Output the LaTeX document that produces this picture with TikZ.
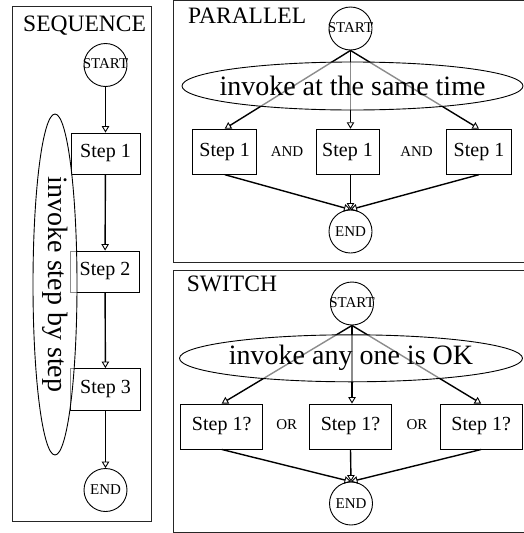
\documentclass[tikz,border=0pt]{standalone}
\usepackage{fontspec}
\setmainfont{Liberation Serif}
\usetikzlibrary{arrows.meta,shapes.geometric}

\tikzset{
  panel/.style={draw=black!85, line width=1pt},
  title/.style={anchor=base west, inner sep=0pt, font=\fontsize{23.5}{25}\selectfont},
  term/.style={draw, circle, line width=0.9pt, minimum size=43pt, inner sep=0pt,
               font=\fontsize{15}{16}\selectfont},
  stepbox/.style={draw, rectangle, line width=0.9pt, inner sep=0pt,
                  font=\fontsize{20}{22}\selectfont},
  joiner/.style={inner sep=0pt, font=\fontsize{15}{16}\selectfont},
  flow/.style={line width=1.4pt, -{Triangle[open, length=6.5pt, width=7.5pt, line width=0.9pt]}},
  note/.style={draw, ellipse, line width=0.9pt, inner sep=0pt, fill=white,
               fill opacity=0.55, text opacity=1, font=\fontsize{28}{30}\selectfont},
}

\begin{document}
\begin{tikzpicture}[x=1pt, y=-1pt]
\useasboundingbox (0,0) rectangle (524,533);

% ---------------- SEQUENCE ----------------
\draw[panel] (12,6) rectangle (151,521);
\node[title] (seqTitle) at (23,31) {SEQUENCE};
\node[term] (sStart) at (105.5,65) {\raisebox{2pt}{\makebox[0pt]{START}}};
\node[stepbox, minimum width=69pt, minimum height=41pt] (s1) at (105.5,153.5) {Step 1};
\node[stepbox, minimum width=69pt, minimum height=41pt] (s2) at (105,271.5) {Step 2};
\node[stepbox, minimum width=70pt, minimum height=42pt] (s3) at (105.5,389.5) {Step 3};
\node[term] (sEnd) at (105.5,490) {END};
\draw[flow] (sStart) -- (s1);
\draw[flow] (s1) -- (s2);
\draw[flow] (s2) -- (s3);
\draw[flow] (s3) -- (sEnd);
\node[note, rotate=-90, minimum width=341pt, minimum height=44pt] (sNote) at (55,284.5)
  {invoke step by step};

% ---------------- PARALLEL ----------------
\draw[panel] (173,0.5) rectangle (530,262);
\node[title] (parTitle) at (188,23.3) {PARALLEL};
\node[term] (pStart) at (350.5,28.5) {\raisebox{2pt}{\makebox[0pt]{START}}};
\node[stepbox, minimum width=64pt, minimum height=45pt] (pA) at (224.7,151.7) {Step 1};
\node[stepbox, minimum width=63pt, minimum height=45pt] (pB) at (347.5,151.7) {Step 1};
\node[stepbox, minimum width=65pt, minimum height=45pt] (pC) at (479,151.7) {Step 1};
\node[joiner] (and1) at (287,152) {AND};
\node[joiner] (and2) at (416.5,152) {AND};
\node[term] (pEnd) at (350.5,231.5) {END};
\draw[flow] (pStart.south) -- (pA.north);
\draw[flow] (pStart.south) -- (pStart.south |- pB.north);
\draw[flow] (pStart.south) -- (pC.north);
\draw[flow] (pA.south) -- (pEnd.north);
\draw[flow] (pStart.south |- pB.south) -- (pEnd.north);
\draw[flow] (pC.south) -- (pEnd.north);
\node[note, minimum width=341pt, minimum height=48pt] (pNote) at (352.5,86)
  {\makebox[0pt]{invoke at the same time}};

% ---------------- SWITCH ----------------
\draw[panel] (173,270.5) rectangle (530,532);
\node[title] (swTitle) at (186.7,291.7) {SWITCH};
\node[term] (wStart) at (352,303.5) {\raisebox{2pt}{\makebox[0pt]{START}}};
\node[stepbox, minimum width=82pt, minimum height=45pt] (wA) at (221.7,426.5) {Step 1?};
\node[stepbox, minimum width=82pt, minimum height=45pt] (wB) at (350.5,426.5) {Step 1?};
\node[stepbox, minimum width=82pt, minimum height=45pt] (wC) at (481.2,426.5) {Step 1?};
\node[joiner] (or1) at (286.7,425) {OR};
\node[joiner] (or2) at (417,425) {OR};
\node[term] (wEnd) at (351,503.5) {END};
\draw[flow] (wStart.south) -- (wA.north);
\draw[flow] (wStart.south) -- (wStart.south |- wB.north);
\draw[flow] (wStart.south) -- (wC.north);
\draw[flow] (wA.south) -- (wEnd.north);
\draw[flow] (wB.south) -- (wEnd.north);
\draw[flow] (wC.south) -- (wEnd.north);
\node[note, minimum width=343pt, minimum height=47pt] (wNote) at (351,358.3)
  {\makebox[0pt]{invoke any one is OK}};
\end{tikzpicture}
\end{document}
